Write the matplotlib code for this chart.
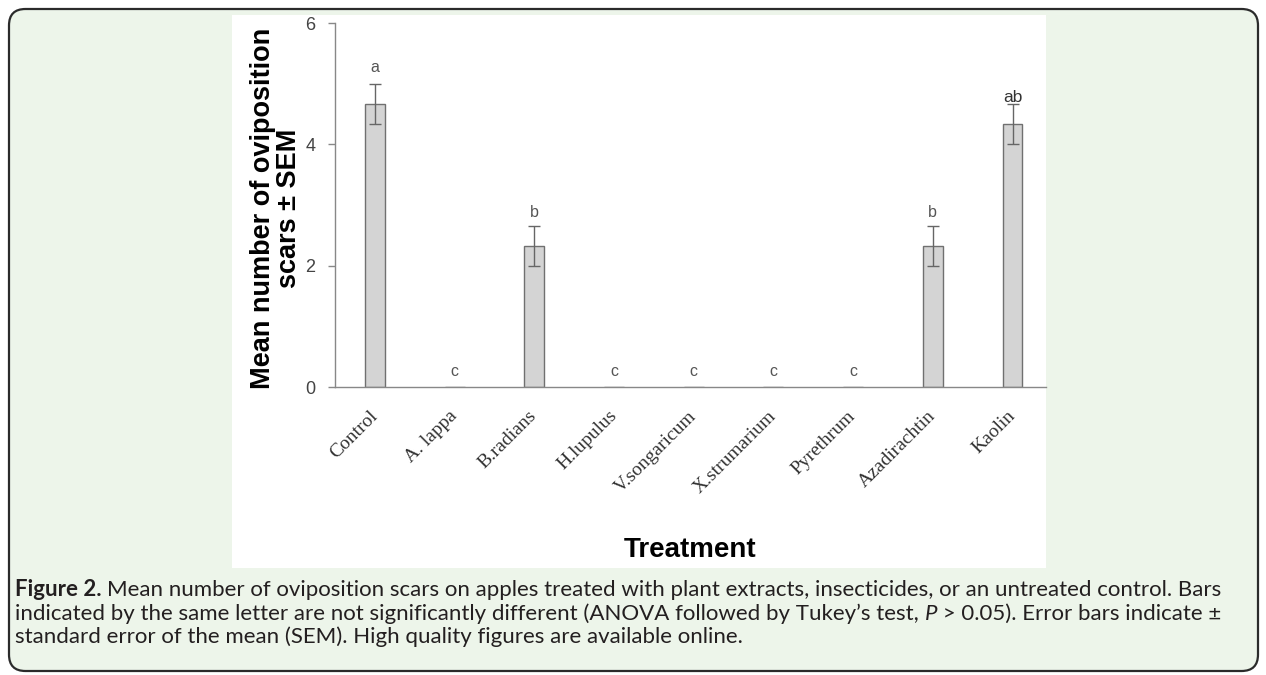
import matplotlib
matplotlib.use("Agg")
import matplotlib.pyplot as plt
import matplotlib.transforms as mtransforms
from matplotlib.patches import FancyBboxPatch, Rectangle
import numpy as np

treatments = ["Control", "A. lappa", "B.radians", "H.lupulus", "V.songaricum",
              "X.strumarium", "Pyrethrum", "Azadirachtin", "Kaolin"]
means = [4.67, 0, 2.33, 0, 0, 0, 0, 2.33, 4.33]
sems = [0.33, 0, 0.33, 0, 0, 0, 0, 0.33, 0.33]
letters = ["a", "c", "b", "c", "c", "c", "c", "b", "ab"]
letter_y = [5.27, 0.25, 2.87, 0.25, 0.25, 0.25, 0.25, 2.87, 4.78]

W, H = 1266, 675
fig = plt.figure(figsize=(W / 100, H / 100), dpi=100)
fig.patch.set_facecolor("white")

def fx(px):
    return px / W

def fy(py):
    return 1 - py / H

# green box with rounded corners, white chart panel on top
box = FancyBboxPatch((fx(9), fy(671)), fx(1249), (671 - 9) / H,
                     boxstyle="round,pad=0,rounding_size=0.013",
                     transform=fig.transFigure, facecolor="#edf5ea",
                     edgecolor="#2b2b2b", linewidth=1.6, mutation_aspect=W / H,
                     zorder=-3)
fig.patches.append(box)
fig.patches.append(Rectangle((fx(232), fy(568)), fx(1046 - 232), (568 - 15) / H,
                             transform=fig.transFigure, facecolor="white",
                             edgecolor="none", zorder=-2))

ax = fig.add_axes([fx(335), fy(387), fx(1046 - 335), (387 - 23) / H])
ax.set_facecolor("none")
x = np.arange(len(treatments))
ax.bar(x, means, width=0.25, color="#d4d4d4", edgecolor="#707070", linewidth=1.0, zorder=2)
err_x = [xi for xi, s in zip(x, sems) if s > 0]
err_m = [m for m, s in zip(means, sems) if s > 0]
err_s = [s for s in sems if s > 0]
ax.errorbar(err_x, err_m, yerr=err_s, fmt="none", ecolor="#666666",
            elinewidth=1.0, capsize=4, capthick=1.0, zorder=3)
for xi, lab, ly in zip(x, letters, letter_y):
    col = "#333333" if lab == "ab" else "#555555"
    fs = 12.5 if lab == "ab" else 11.5
    ax.text(xi, ly, lab, ha="center", va="center", fontsize=fs, color=col,
            family="Liberation Sans", zorder=4)

ax.set_xlim(-0.5, 8.42)
ax.set_ylim(0, 6)
ax.set_yticks([0, 2, 4, 6])
ax.set_xticks(x)
ax.set_xticklabels(treatments, rotation=45, ha="right", va="center",
                   rotation_mode="anchor", family="Liberation Serif",
                   fontsize=14, color="#333333")
shift = mtransforms.ScaledTranslation(4 / 100, 0, fig.dpi_scale_trans)
for t in ax.get_xticklabels():
    t.set_transform(t.get_transform() + shift)
ax.tick_params(axis="x", length=0, pad=19)
ax.tick_params(axis="y", length=5, width=1, color="#888888", pad=9,
               labelsize=13, labelcolor="#444444")
for t in ax.get_yticklabels():
    t.set_family("Liberation Sans")
for s in ["top", "right"]:
    ax.spines[s].set_visible(False)
for s in ["left", "bottom"]:
    ax.spines[s].set_color("#888888")
    ax.spines[s].set_linewidth(1.0)

fig.text(fx(276), fy(208), "Mean number of oviposition\nscars \u00b1 SEM",
         rotation=90, ha="center", va="center", fontsize=19.5, fontweight="bold",
         family="Liberation Sans", linespacing=1.0)
fig.text(fx(690), fy(550), "Treatment", ha="center", va="center", fontsize=20,
         fontweight="bold", family="Liberation Sans")

# caption, pieces placed one after another
cap = dict(fontsize=16, family="Lato", color="#231f20", va="baseline")
fig.canvas.draw()
r = fig.canvas.get_renderer()

t1 = fig.text(fx(15), fy(596), "Figure 2.", fontweight="bold", **cap)
bb = t1.get_window_extent(r)
fig.text(bb.x1 / W + fx(5), fy(596),
         "Mean number of oviposition scars on apples treated with plant extracts, insecticides, or an untreated control. Bars",
         **cap)
t2 = fig.text(fx(15), fy(619.5),
              "indicated by the same letter are not significantly different (ANOVA followed by Tukey\u2019s test, ",
              **cap)
bb = t2.get_window_extent(r)
t3 = fig.text(bb.x1 / W, fy(619.5), "P", fontstyle="italic", **cap)
bb = t3.get_window_extent(r)
fig.text(bb.x1 / W, fy(619.5), " > 0.05). Error bars indicate \u00b1", **cap)
fig.text(fx(15), fy(643), "standard error of the mean (SEM). High quality figures are available online.", **cap)

fig.savefig("out.png", dpi=100, facecolor="white")
